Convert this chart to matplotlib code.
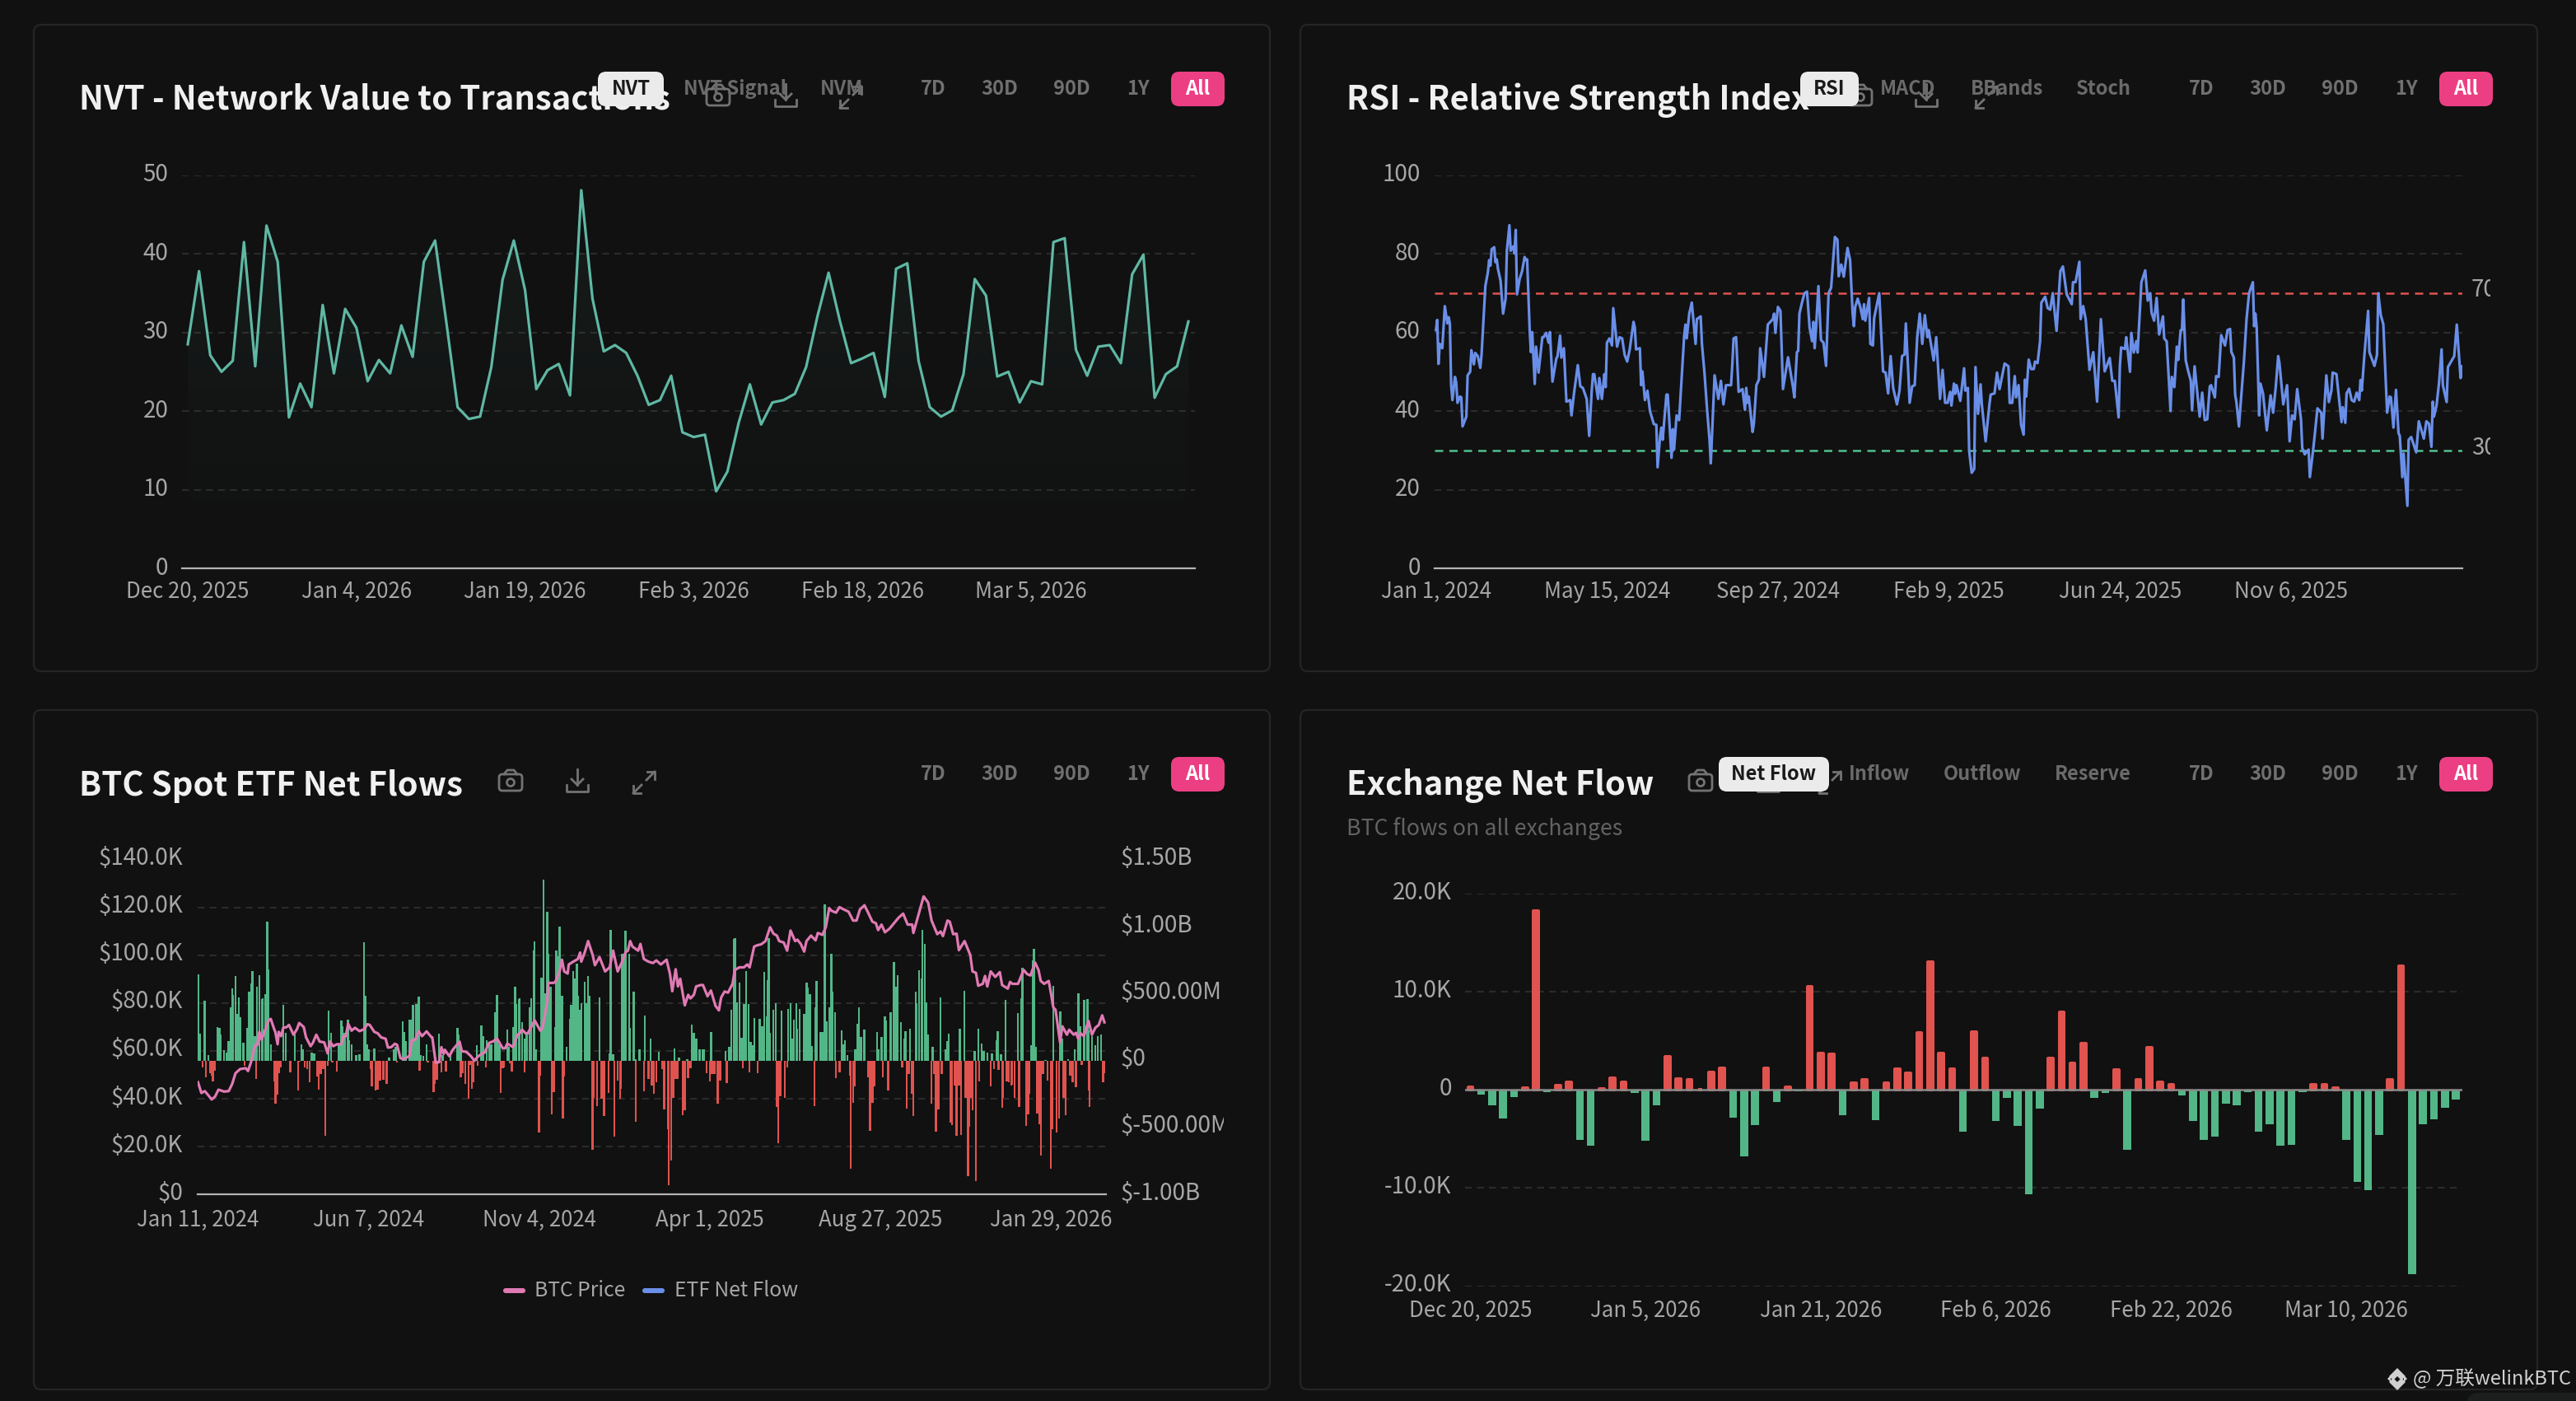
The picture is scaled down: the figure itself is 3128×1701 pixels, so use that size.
import numpy as np
import matplotlib
matplotlib.use('Agg')
import matplotlib.pyplot as plt
from matplotlib.patches import FancyBboxPatch, Circle, Polygon
from matplotlib.transforms import Bbox, ScaledTranslation

plt.rcParams['font.family'] = ['Noto Sans CJK SC', 'DejaVu Sans']

W, H = 3128, 1701
BG = '#111111'

# NVT, one value per day from Dec 20, 2025
nvt_values = [28.5, 37.8, 27.1, 25, 26.4, 41.5, 25.7, 43.6, 39, 19.2, 23.5, 20.5, 33.5, 24.8, 33, 30.6, 23.8, 26.5,
              24.8, 30.9, 26.9, 39, 41.7, 31.3, 20.5, 19, 19.3, 25.6, 36.7, 41.7, 35.4, 22.8, 25.2, 26, 22, 48.1,
              34.3, 27.6, 28.4, 27.4, 24.5, 20.8, 21.4, 24.5, 17.3, 16.7, 17, 9.8, 12.3, 18.5, 23.4, 18.3, 21.1,
              21.4, 22.2, 25.6, 32, 37.6, 31.5, 26.1, 26.7, 27.4, 21.8, 38.1, 38.8, 26.4, 20.5, 19.3, 20.1, 24.7,
              36.8, 34.7, 24.4, 25, 21.1, 23.8, 23.4, 41.5, 42, 27.8, 24.5, 28.2, 28.4, 26.1, 37.4, 39.9, 21.7,
              24.7, 25.7, 31.4]
nvt_ticks = [0, 15, 30, 45, 60, 75]
nvt_labels = ['Dec 20, 2025', 'Jan 4, 2026', 'Jan 19, 2026', 'Feb 3, 2026', 'Feb 18, 2026', 'Mar 5, 2026']

# RSI turning points, day number from Jan 1, 2024
rsi_days = [0, 1, 2, 3, 5, 7, 9, 10, 11, 12, 13, 15, 16, 17, 19, 20, 21, 24, 25, 27, 28, 30, 31, 33, 35, 36, 39, 41,
            42, 43, 44, 46, 47, 48, 49, 51, 53, 55, 56, 58, 59, 61, 62, 63, 64, 66, 68, 70, 71, 72, 74, 75, 76, 78,
            79, 81, 84, 85, 87, 89, 90, 92, 93, 95, 96, 98, 99, 101, 103, 106, 107, 109, 112, 114, 116, 119, 121,
            123, 124, 125, 128, 129, 131, 133, 134, 135, 137, 139, 140, 143, 145, 147, 149, 151, 153, 156, 157,
            158, 161, 162, 163, 165, 167, 169, 172, 174, 175, 177, 178, 179, 182, 183, 186, 187, 188, 190, 192,
            196, 197, 198, 200, 202, 205, 206, 209, 210, 212, 214, 216, 217, 220, 223, 225, 227, 229, 233, 234,
            235, 237, 239, 242, 244, 245, 246, 247, 250, 251, 253, 255, 256, 259, 262, 266, 267, 268, 270, 272,
            274, 278, 282, 283, 285, 286, 287, 289, 291, 293, 295, 297, 298, 299, 300, 302, 304, 306, 308, 310,
            312, 315, 317, 318, 320, 322, 325, 327, 329, 330, 331, 333, 335, 337, 338, 339, 342, 343, 345, 346,
            350, 353, 355, 357, 359, 361, 364, 366, 368, 370, 371, 373, 374, 376, 378, 380, 382, 384, 386, 388,
            389, 393, 395, 398, 400,
            402, 404, 406, 407, 409, 410, 411, 414, 417, 418, 420, 421, 423, 425, 426, 428, 430, 431, 434, 437,
            438, 441, 443, 445, 449, 452, 453, 455, 457, 458, 460, 462, 464, 465, 466, 468, 470, 472, 473, 475,
            477, 478, 481, 483, 485, 487, 490, 493, 495, 498, 502, 503, 505, 508, 509, 511, 513, 516, 519, 522,
            525, 528, 532, 534, 536, 539, 540, 541, 544, 545, 548, 549, 551, 553, 554, 557, 560, 562, 564, 565,
            567, 569, 571, 574, 575, 577, 580, 581, 583, 585, 586, 588, 589, 590, 592, 594, 596, 597, 599, 603,
            605, 607, 609, 611, 612, 615, 616, 618, 620, 623, 625, 627, 628, 630, 631, 632, 634, 638, 640, 642,
            645, 646, 647, 648, 650, 651, 653, 656, 659, 661, 663, 665, 666, 669, 672, 674, 676, 678, 680, 683,
            684, 686, 689, 690, 693, 696, 699, 700, 703, 705, 707, 708, 711, 715, 716, 718, 719, 721, 723, 725,
            727, 729, 730, 731, 733, 736, 737, 741, 743, 744, 746, 748, 751, 753, 754, 756, 758, 760, 761, 763,
            764, 767, 768, 770, 774, 776, 780, 782, 784, 786, 787, 788, 790, 792, 794, 795, 798, 799, 804, 806,
            809, 810]
rsi_values = [60.6, 63.2, 52, 57.1, 56, 66.7, 62.3, 63.9, 62.3, 46.6, 42.8, 48.7, 47.3, 42.1, 43.7, 43.5, 36.1, 38.6,
              49.1, 50, 55.5, 51.9, 54.8, 54, 51, 54.3, 71.8, 75.3, 78.4, 77, 81.2, 81.7, 77.9, 78.6, 76.1, 73.2,
              64.8, 68.6, 80.8, 87.3, 80.8, 81.9, 80.1, 86.1, 69.7, 73.5, 75.6, 79.2, 78.4, 78.6, 60.6, 55, 60.1,
              46.9, 56.4, 49.8, 58.8, 58.8, 59.9, 57.4, 60.1, 47.5, 49.4, 53.3, 54, 59.2, 53.6, 56, 42.4, 42.8,
              38.9, 44.5, 51.7, 46.3, 45.9, 43.1, 33.7, 45.2, 49.4, 49.4, 43.1, 48.4, 43.1, 49.4, 46.1, 57.4, 58.5,
              56.7, 66.2, 56.4, 58.8, 58.5, 54.3, 52.6, 55.7, 62.7, 61.3, 55.7, 56, 46.6, 50.1, 42.8, 45.2, 40,
              36.7, 36.5, 25.7, 33.7, 35.8, 32.7, 44.2, 44.2, 28.1, 35.4, 30.2, 38.9, 37.7, 59.2, 62, 58.5, 64.8,
              67.6, 57.1, 63.4, 64.1, 57.1, 49.8, 40.7, 32.7, 26.7, 49.1, 43.1, 47.7, 41.7, 46.6, 46.6, 51.9, 58.5,
              58.8, 44.9, 45.6, 40.3, 45.9, 42.1, 43.7, 34.7, 36.8, 46.6, 48, 56, 48.7, 62, 63.4, 64.8, 59.9, 66.5,
              65.5, 45.6, 53.7, 45.9, 43.5, 55, 55.3, 64.8, 67.6, 70, 70.4, 61.3, 57.8, 62.7, 56, 60.6, 71.8, 58.1,
              57.4, 51.5, 70, 71.4, 84.3, 83.6, 74.3, 77.3, 74.2, 81.5, 78.4, 64.8, 61.6, 66.5, 68.6, 66.5, 63.4,
              67.2, 63, 68.8, 57.1, 56.7, 63.7, 70, 50.1, 49.8, 44.5, 54, 45.9, 41.7, 45.2, 54, 54.4, 62.3, 49.4,
              42.1, 46.3, 46.6, 58.8, 64.8, 57.1, 64.4, 58.8, 60.6, 52.9, 58.8, 43.1, 50.5,
              42.1, 42.1, 44.9, 41.4, 47, 44.4, 46.6, 42.6, 50.9, 45.2, 45.9, 29.9, 24.3, 25.3, 51.2, 39.3, 46.8,
              41.7, 32.3, 41.7, 44.2, 44.5, 49.8, 45.6, 52.1, 51.4, 42.1, 42.1, 48.9, 43.5, 46.6, 36.5, 34, 48,
              43.7, 53.1, 50.7, 50.7, 52.6, 52.2, 57.8, 67.6, 69.1, 66.2, 65.8, 70, 60.4, 75.6, 76.8, 69.7, 67.2,
              72.8, 72.8, 78, 63.4, 66.7, 63.4, 50.5, 55, 42.4, 63.4, 50.1, 53.5, 47.7, 47.7, 38.4, 51.5, 56.2,
              55.8, 58.8, 50, 59.9, 54.9, 57.8, 54.9, 72.8, 75.8, 68.1, 70, 65.1, 63, 68.8, 59.5, 64.1, 58.5, 57.7,
              40, 48.7, 46.1, 56.4, 53, 60.6, 60.6, 68.4, 52.9, 50.1, 47.7, 40.2, 51.4, 38.6, 44.7, 37.7, 37.9,
              46.3, 46.6, 43.5, 48.9, 48.7, 59.3, 56.7, 60.6, 60.9, 55.1, 53.6, 44.2, 42.3, 36.1, 52.9, 63.4, 70,
              72.8, 61.6, 64.8, 61.3, 38.9, 47, 44.5, 35.1, 44, 39.6, 45.9, 54, 52.2, 41.7, 46.6, 32.3, 38.9, 37.9,
              45.6, 37.9, 30.6, 29, 30.2, 23.2, 31.3, 40.7, 39.6, 33, 49.1, 42.3, 45.2, 49.8, 49.4, 37.2, 41, 37,
              44.5, 45.7, 42.8, 42.4, 44.7, 42.8, 47.9, 45.2, 54, 65.5, 55, 51.5, 54.3, 70, 64.4, 62.1, 39.6, 43.7,
              43.5, 35.8, 45.4, 34.4, 33.7, 23.2, 29.2, 15.9, 32.7, 33.4, 29.5, 37.4, 33, 37.4, 36.8, 30.9, 42.4,
              38.6, 41.4, 47.2, 55.7, 46.6, 42.3, 51.2, 54, 62, 48.4, 51.4]
rsi_ticks = [0, 135, 270, 405, 540, 675]
rsi_labels = ['Jan 1, 2024', 'May 15, 2024', 'Sep 27, 2024', 'Feb 9, 2025', 'Jun 24, 2025', 'Nov 6, 2025']

# ETF flows in $M, row number from Jan 11, 2024
etf_in_days = [0, 2, 6, 9, 17, 19, 20, 23, 25, 27, 29, 30, 31, 33, 34, 36, 37, 40, 43, 45, 47, 48, 50, 52, 54, 56, 57,
               59, 61, 62, 64, 75, 77, 85, 91, 92, 100, 102, 115, 117, 124, 126, 127, 129, 132, 133, 135, 139, 142,
               146, 147, 149, 150, 155, 168, 172, 174, 180, 181, 183, 186, 187, 189, 190, 192, 194, 196, 198, 201,
               212, 215, 222, 228, 229, 231, 245, 249, 251, 254, 256, 258, 261, 263, 265, 272, 273, 277, 279, 280,
               282, 283, 285, 287, 289, 292, 293, 295, 296, 297, 302, 304, 305, 307, 308, 310, 314, 315, 317, 318,
               320, 324, 327, 328, 330, 331, 333, 334, 336, 337, 340, 341, 343, 344, 353, 362, 363, 365, 373, 375,
               376, 379, 380, 383, 385, 388,
               393, 398, 405, 419, 423, 430, 434, 436, 438, 441, 444, 445, 451, 464, 467, 469, 471, 472, 474, 476,
               478, 480, 482, 484, 486, 488, 489, 494, 496, 498, 500, 501, 502, 503, 506, 508, 513, 519, 521, 522,
               524, 526, 527, 529, 533, 535, 536, 538, 540, 543, 544, 547, 549, 551, 553, 555, 557, 558, 560, 566,
               567, 569, 571, 578, 580, 581, 583, 586, 597, 598, 601, 604, 605, 609, 612, 614, 615, 618, 621, 622,
               626, 631, 632, 634, 636, 637, 639, 640, 642, 646, 653, 657, 659, 660, 670, 674, 683, 686, 689, 691,
               694, 698, 702, 703, 706, 710, 721, 724, 725, 733, 734, 735, 737, 745, 752, 758, 760, 765, 771, 774,
               776, 779, 782, 783, 786, 789, 791, 794]
etf_in_values = [647, 201, 448, 41, 250, 242, 195, 78, 62, 144, 400, 538, 493, 630, 349, 472, 324, 133, 246, 513, 575,
                 667, 185, 554, 641, 462, 468, 499, 1037, 682, 123, 415, 205, 205, 119, 82, 57, 51, 374, 205, 123, 298,
                 257, 205, 304, 154, 119, 41, 45, 883, 482, 123, 82, 92, 25, 82, 103, 292, 216, 144, 308, 308, 417,
                 164, 421, 478, 41, 37, 119, 199, 41, 41, 246, 195, 103, 113, 261, 185, 154, 123, 123, 359, 489, 123,
                 230, 103, 250, 550, 421, 460, 464, 287, 164, 205, 400, 466, 821, 889, 82, 622, 1351, 503, 1115, 801,
                 554, 250, 821, 780, 1000, 482, 103, 314, 417, 667, 616, 725, 482, 380, 431, 591, 431, 632, 482, 472,
                 51, 975, 45, 801, 795, 969, 797, 246, 513, 10, 82,
                 339, 164, 66, 88, 21, 10, 271, 205, 164, 82, 82, 86, 214, 72, 103, 380, 909, 912, 437, 585, 170, 421,
                 667, 421, 140, 113, 318, 314, 257, 663, 328, 602, 914, 205, 380, 431, 374, 384, 427, 164, 308, 431,
                 236, 386, 349, 585, 544, 499, 107, 400, 595, 216, 216, 1170, 294, 400, 797, 513, 359, 226, 123, 154,
                 41, 82, 277, 400, 175, 230, 216, 82, 175, 328, 298, 359, 739, 554, 636, 287, 164, 222, 236, 513, 427,
                 673, 616, 975, 873, 437, 195, 103, 472, 82, 144, 199, 236, 519, 72, 236, 127, 72, 57, 51, 154, 222,
                 45, 452, 353, 468, 694, 113, 749, 836, 103, 4, 558, 365, 164, 10, 86, 503, 257, 456, 458, 226, 185,
                 113, 181, 195]
etf_out_days = [4, 7, 11, 12, 13, 15, 41, 51, 67, 68, 70, 71, 73, 81, 88, 89, 94, 96, 98, 105, 106, 108, 110, 112, 114,
                118, 122, 152, 153, 156, 158, 160, 163, 166, 175, 195, 202, 207, 208, 210, 214, 218, 231, 233, 235,
                238, 239, 241, 242, 246, 253, 266, 268, 269, 274, 276, 287, 300, 301, 311, 313, 321, 322, 347, 348,
                351, 355, 357, 361, 366, 369, 371, 372, 385,
                392, 396, 399, 401, 403, 408, 410, 413, 414, 416, 418, 420, 422, 426, 427, 428, 431, 433, 447, 450,
                452, 454, 457, 459, 465, 479, 485, 492, 509, 510, 512, 516, 518, 542, 561, 564, 573, 574, 576, 577,
                589, 591, 593, 595, 602, 607, 619, 623, 625, 628, 629, 645, 647, 649, 651, 654, 662, 663, 665, 667,
                669, 671, 675, 677, 678, 680, 681, 684, 687, 697, 700, 704, 707, 708, 711, 713, 715, 716, 718, 722,
                728, 730, 731, 738, 740, 741, 743, 747, 750, 751, 755, 757, 761, 763, 767, 769, 772, 777, 783, 784,
                796, 797]
etf_out_values = [-51, -123, -92, -113, -154, -78, -37, -140, -154, -324, -257, -92, -51, -86, -222, -10, -51, -62,
                  -164, -119, -216, -103, -62, -565, -37, -16, -82, -66, -195, -226, -216, -148, -144, -175, -16, -78,
                  -16, -236, -175, -144, -88, -82, -123, -92, -175, -287, -31, -209, -164, -41, -51, -240, -57, -51,
                  -21, -82, -86, -540, -113, -400, -236, -435, -119, -669, -277, -339, -287, -415, -240, -569, -148,
                  -283, -209, -456,
                  -232, -140, -185, -250, -160, -62, -363, -513, -934, -749, -277, -140, -140, -411, -277, -370, -133,
                  -57, -92, -154, -99, -103, -324, -148, -170, -55, -86, -92, -345, -616, -267, -277, -51, -343, -129,
                  -86, -113, -811, -318, -195, -123, -524, -314, -195, -127, -222, -51, -359, -103, -250, -417, -324,
                  -103, -530, -363, -103, -466, -482, -185, -565, -189, -558, -277, -862, -493, -277, -370, -899, -154,
                  -195, -62, -72, -355, -277, -154, -160, -189, -180, -277, -345, -487, -400, -246, -394, -478, -708,
                  -103, -148, -811, -513, -540, -431, -277, -411, -113, -164, -201, -31, -226, -349, -164, -92]
btc_days = [0, 3, 6, 9, 12, 15, 18, 23, 27, 30, 33, 37, 42, 44, 47, 50, 52, 54, 56, 58, 62, 64, 67, 68, 70, 71, 73, 75,
            78, 80, 84, 87, 89, 93, 95, 99, 101, 104, 107, 111, 114, 116, 119, 122, 126, 128, 130, 132, 135, 138, 142,
            146, 149, 151, 155, 158, 161, 165, 167, 170, 173, 175, 178, 181, 186, 188, 191, 194, 197, 201, 205, 206,
            209, 212, 214, 216, 217, 221, 224, 230, 232, 236, 240, 243, 246, 250, 252, 256, 259, 263, 268, 270, 272,
            277, 281, 283, 285, 288, 290, 296, 301, 303, 307, 308, 312, 314, 318, 320, 322, 325, 326, 330, 334, 336,
            337, 340, 343, 347, 349, 353, 358, 362, 365, 369, 373, 376, 378, 380, 382, 387, 389,
            392, 396, 400, 403, 407, 412, 415, 417, 420, 422, 424, 428, 431, 433, 436, 438, 442, 444, 448, 451, 455,
            458, 460, 463, 466, 470, 472, 476, 480, 483, 485, 489, 492, 495, 499, 503, 506, 509, 511, 515, 518, 521,
            525, 527, 530, 533, 535, 539, 543, 545, 549, 552, 555, 557, 561, 564, 568, 572, 576, 579, 582, 586, 589,
            593, 596, 598, 601, 604, 608, 612, 616, 620, 624, 628, 629, 638, 642, 645, 650, 653, 655, 659, 661, 664,
            667, 669, 674, 679, 681, 684, 686, 690, 692, 694, 697, 701, 705, 707, 712, 714, 716, 721, 726, 729, 732,
            736, 739, 741, 744, 748, 750, 752, 754, 758, 760, 764, 766, 770, 772, 774, 776, 779, 783, 786, 789, 792,
            795, 797]
btc_values = [46.9, 42.4, 43.2, 41.5, 39.7, 40.9, 43.8, 43, 43.2, 46.1, 50.7, 52.4, 52.8, 51.6, 55.9, 62.2, 62.4, 68,
              64.7, 67.4, 72.8, 73.4, 69.1, 68, 62.8, 68, 66.2, 69.7, 70, 70.9, 66.8, 69.1, 71.7, 70, 65.7, 62, 63.4,
              66.8, 63.9, 63.6, 59, 63.9, 62, 62.8, 62.8, 66.2, 66.2, 71.4, 68.5, 69.7, 68.3, 69.1, 71.2, 70.9, 68,
              67.4, 65.7, 65.1, 61.4, 61.6, 63, 62.6, 57, 56.5, 58, 64.5, 64.7, 68.3, 66.2, 68.2, 65.9, 65.7, 55.1,
              55.3, 61.6, 58.8, 60.5, 57.8, 60.5, 63.9, 59.9, 59.6, 57.8, 55.9, 57.6, 59, 59.3, 63.4, 63.9, 65.1,
              61.1, 61.1, 63.1, 61.6, 66.8, 67.4, 68.9, 67.4, 67.4, 72.8, 68.5, 69.7, 80.6, 88.5, 88.5, 88.7, 93.3,
              98.2, 93.3, 92.4, 96.2, 97.4, 98.5, 101.2, 97.4, 101.2, 106, 100.2, 95.9, 99.3, 93.3, 95, 102, 93.3,
              97.4, 101.4, 102, 106, 103.7, 102, 104.8,
              98.5, 97.4, 96.8, 97.9, 96.2, 98.2, 92.2, 85, 94.2, 87, 90.2, 79.1, 83.5, 82, 83.5, 87, 87.6, 87.6,
              82.9, 85.3, 78.9, 77, 82.4, 84.9, 84.4, 88.1, 93.9, 95, 95, 96.2, 95, 103.7, 104.3, 104.6, 106, 111.8,
              109.1, 108.3, 106, 105.4, 102, 110.4, 106, 106.6, 104.8, 101.6, 106, 108.3, 106.3, 109.4, 108.6, 111.8,
              119.8, 118.7, 117.9, 120.2, 119.2, 118.3, 114.6, 114.6, 119.2, 121, 118.1, 114.1, 113.5, 110.6, 112.9,
              109.7, 111.2, 113.5, 115.8, 117.5, 112.9, 112.9, 109.4, 124.7, 122.1, 114.6, 108.9, 110, 108.1, 114.6,
              114.1, 108.9, 109.1, 102.2, 106, 100.2, 93.3, 92.7, 87.3, 88.1, 91.4, 87, 93.3, 91, 93, 87.6, 86.1,
              88.9, 88.1, 88.1, 93.9, 92.2, 91.6, 97, 93.9, 89.3, 88.1, 89.3, 84.1, 78.3, 77.2, 63.6, 70.3, 66.8,
              68.9, 66.8, 67.6, 65.1, 67.4, 66.2, 72.6, 66.8, 69.7, 70.9, 74.9, 72]
etf_ticks = [0, 150, 300, 450, 600, 750]
etf_labels = ['Jan 11, 2024', 'Jun 7, 2024', 'Nov 4, 2024', 'Apr 1, 2025', 'Aug 27, 2025', 'Jan 29, 2026']
price_ticks = [0, 20, 40, 60, 80, 100, 120, 140]
price_labels = ['$0', '$20.0K', '$40.0K', '$60.0K', '$80.0K', '$100.0K', '$120.0K', '$140.0K']
flow_ticks = [-1000, -500, 0, 500, 1000, 1500]
flow_labels = ['$-1.00B', '$-500.00M', '$0', '$500.00M', '$1.00B', '$1.50B']

# exchange net flow in thousands of BTC, one bar per day from Dec 20, 2025
netflow_values = [0.3, -0.45, -1.6, -2.9, -0.7, 0.15, 18.2, -0.2, 0.4, 0.8, -5.1, -5.7, 0.1, 1.2, 0.8, -0.3, -5.2, -1.6,
                  3.4, 1.1, 1.0, 0.05, 1.8, 2.2, -2.8, -6.8, -3.6, 2.2, -1.2, 0.3, -0.15, 10.5, 3.7, 3.6, -2.6, 0.7,
                  1.0, -3.1, 0.7, 2.1, 1.7, 5.8, 13, 3.7, 2.1, -4.3, 5.9, 3.2, -3.2, -0.8, -3.7, -10.6, -1.9, 3.2, 7.9,
                  2.7, 4.7, -0.8, -0.3, 2, -6.1, 1, 4.3, 0.8, 0.5, -0.6, -3.2, -5.1, -4.8, -1.4, -1.6, -0.2, -4.3, -3.5,
                  -5.7, -5.6, -0.2, 0.55, 0.55, 0.2, -5.1, -9.4, -10.2, -4.6, 1, 12.6, -18.8, -3.5, -3, -1.8, -1]
netflow_ticks = [0, 16, 32, 48, 64, 80]
netflow_labels = ['Dec 20, 2025', 'Jan 5, 2026', 'Jan 21, 2026', 'Feb 6, 2026', 'Feb 22, 2026', 'Mar 10, 2026']
range_buttons = ['7D', '30D', '90D', '1Y']

RED = '#e0534f'
GREEN = '#53b687'
GRID = '#2b2b2b'
TICK = '#a6a6a6'
AXIS = '#b4b4b4'
FS_TICK = 18.6
FS_YTICK = 20


def make_axes(x0, y0, x1, y1):
    ax = fig.add_axes([x0 / W, 1 - y1 / H, (x1 - x0) / W, (y1 - y0) / H])
    ax.patch.set_visible(False)
    for side in ['top', 'left', 'right']:
        ax.spines[side].set_visible(False)
    ax.spines['bottom'].set_color(AXIS)
    ax.spines['bottom'].set_linewidth(1.6)
    ax.tick_params(axis='both', length=0, labelcolor=TICK)
    ax.tick_params(axis='x', pad=10.5, labelsize=FS_TICK)
    ax.tick_params(axis='y', pad=12, labelsize=FS_YTICK)
    ax.grid(True, axis='y', color=GRID, linestyle=(0, (4, 3)), linewidth=1.5)
    ax.set_axisbelow(True)
    return ax


def lift_labels(axis, px):
    # labels sit a bit above their grid line in the original
    for lab in axis.get_ticklabels():
        lab.set_transform(lab.get_transform() + ScaledTranslation(0, px / 100, fig.dpi_scale_trans))


def pill(x0, y0, x1, y1, color, r=10):
    ui.add_patch(FancyBboxPatch((x0 + r, y0 + r), x1 - x0 - 2 * r, y1 - y0 - 2 * r,
                                boxstyle='round,pad=%d,rounding_size=%d' % (r, r), fc=color, ec='none', zorder=5))


def icons(cam_x, down_x, exp_x, y):
    c = '#737373'
    ui.add_patch(FancyBboxPatch((cam_x - 14, y - 10), 28, 20, boxstyle='round,pad=0,rounding_size=4', fc='none', ec=c, lw=2, zorder=2))
    ui.add_patch(Circle((cam_x, y), 4.5, fc='none', ec=c, lw=2, zorder=2))
    ui.plot([cam_x - 8, cam_x - 4, cam_x + 4, cam_x + 8], [y - 10, y - 15, y - 15, y - 10], color=c, lw=2, zorder=2)
    ui.plot([down_x - 13, down_x - 13, down_x + 13, down_x + 13], [y + 3, y + 11, y + 11, y + 3], color=c, lw=2, zorder=2)
    ui.plot([down_x, down_x], [y - 16, y + 3], color=c, lw=2, zorder=2)
    ui.plot([down_x - 7, down_x, down_x + 7], [y - 4, y + 3, y - 4], color=c, lw=2, zorder=2)
    # two arrows with a gap between them
    ui.plot([exp_x - 13, exp_x - 3], [y + 13, y + 3], color=c, lw=2, zorder=2)
    ui.plot([exp_x + 3, exp_x + 13], [y - 3, y - 13], color=c, lw=2, zorder=2)
    ui.plot([exp_x - 13, exp_x - 13, exp_x - 4], [y + 4, y + 13, y + 13], color=c, lw=2, zorder=2)
    ui.plot([exp_x + 4, exp_x + 13, exp_x + 13], [y - 13, y - 13, y - 4], color=c, lw=2, zorder=2)


def header(title, tx, ty, btn_y, offset, tabs, active):
    ui.text(tx, ty, title, color='#f0f0f0', fontsize=28.8, fontweight='bold', va='center', ha='left', zorder=1)
    for name, cx in tabs:
        ui.text(cx, btn_y, name, color='#6a6a6a', fontsize=17, fontweight='bold', ha='center', va='center', zorder=3)
    if active:
        name, x0, x1 = active
        pill(x0, btn_y - 21, x1, btn_y + 21, '#ebebeb')
        ui.text((x0 + x1) / 2, btn_y, name, color='#1a1a1a', fontsize=17, fontweight='bold', ha='center', va='center', zorder=6)
    for lab, cx in zip(range_buttons, [1133, 1214, 1301, 1382]):
        ui.text(cx + offset, btn_y, lab, color='#707070', fontsize=17, fontweight='bold', ha='center', va='center', zorder=3)
    pill(1422 + offset, btn_y - 21, 1487 + offset, btn_y + 21, '#ec3f83')
    ui.text(1454.5 + offset, btn_y, 'All', color='white', fontsize=17, fontweight='bold', ha='center', va='center', zorder=6)


fig = plt.figure(figsize=(W / 100, H / 100), dpi=100, facecolor=BG)

back = fig.add_axes([0, 0, 1, 1], zorder=0)
back.set_xlim(0, W)
back.set_ylim(H, 0)
back.axis('off')
for px0, py0, px1, py1 in [(41, 30, 1542, 815), (1579, 30, 3081, 815), (41, 862, 1542, 1687), (1579, 862, 3081, 1687)]:
    back.add_patch(FancyBboxPatch((px0, py0), px1 - px0, py1 - py0, boxstyle='round,pad=0,rounding_size=9',
                                  fc=BG, ec='#252525', lw=1.6))
back.add_patch(FancyBboxPatch((2995, 1691), 200, 60, boxstyle='round,pad=0,rounding_size=16', fc='#1c1e1e', ec='none'))

ui = fig.add_axes([0, 0, 1, 1], zorder=10)
ui.set_xlim(0, W)
ui.set_ylim(H, 0)
ui.axis('off')

# NVT
ax1 = make_axes(221, 212.8, 1451, 690)
nvt_x = np.arange(len(nvt_values))
fill = ax1.fill_between(nvt_x, nvt_values, 0, color='none')
grad = np.zeros((100, 2, 4))
grad[..., :3] = matplotlib.colors.to_rgb('#5fb8a4')
grad[..., 3] = np.linspace(0.06, 0, 100)[:, None]
img = ax1.imshow(grad, extent=[0, 89, 4, 40], origin='upper', aspect='auto', zorder=1)
img.set_clip_path(fill.get_paths()[0], transform=ax1.transData)
ax1.plot(nvt_x, nvt_values, color='#5fb8a4', lw=2.3, zorder=3)
ax1.set_xlim(-7 / 13.65, 89 + 8 / 13.65)
ax1.set_ylim(0, 50)
ax1.set_xticks(nvt_ticks, nvt_labels)
ax1.set_yticks([0, 10, 20, 30, 40, 50])
lift_labels(ax1.yaxis, 4)

# RSI
ax2 = make_axes(1741.5, 212.8, 2990, 690)
ax2.plot(rsi_days, rsi_values, color='#6a8fe8', lw=2.3, zorder=3)
ax2.axhline(70, color='#e0534f', lw=1.8, linestyle=(0, (4, 3)), zorder=2)
ax2.axhline(30, color='#4fc08d', lw=1.8, linestyle=(0, (4, 3)), zorder=2)
ax2.set_xlim(-1.4, 810.4)
ax2.set_ylim(0, 100)
ax2.set_xticks(rsi_ticks, rsi_labels)
ax2.set_yticks([0, 20, 40, 60, 80, 100])
lift_labels(ax2.yaxis, 4)

# ETF, price line goes on top of the bars
ax3 = make_axes(240, 1044, 1342.5, 1450)
ax3.bar(etf_in_days, etf_in_values, width=1.8, color=GREEN, lw=0)
ax3.bar(etf_out_days, etf_out_values, width=1.8, color=RED, lw=0)
ax3b = ax3.twinx()
ax3b.patch.set_visible(False)
ax3b.plot(btc_days, btc_values, color='#e07ab4', lw=2.3)
ax3b.set_ylim(0, 140)
ax3b.set_xlim(-0.3, 798)
ax3b.yaxis.tick_left()
ax3b.set_yticks(price_ticks, price_labels)
ax3b.tick_params(axis='y', length=0, labelsize=FS_YTICK, labelcolor=TICK, pad=13)
for side in ['top', 'left', 'right', 'bottom']:
    ax3b.spines[side].set_visible(False)
lift_labels(ax3b.yaxis, 5)

ax3.set_xlim(-0.3, 798)
ax3.set_ylim(-1000, 1500)
ax3.set_xticks(etf_ticks, etf_labels)
ax3.tick_params(axis='x', pad=13)
ax3.yaxis.tick_right()
ax3.set_yticks(flow_ticks, flow_labels)
ax3.set_yticks([p / 140 * 2500 - 1000 for p in price_ticks], minor=True)
ax3.tick_params(axis='y', which='both', length=0, labelsize=FS_YTICK, labelcolor=TICK, pad=13)
ax3.grid(False, axis='y', which='major')
ax3.grid(True, axis='y', which='minor', color=GRID, linestyle=(0, (4, 3)), linewidth=1.5)
lift_labels(ax3.yaxis, 5)
for lab in ax3.yaxis.get_ticklabels():
    lab.set_clip_on(True)
    lab.set_clip_box(Bbox([[1300, 0], [1486, H]]))

# exchange net flow, red bars have rounded tops in the original
ax4 = make_axes(1779.4, 1085, 2990, 1561.5)
flow_x = np.arange(len(netflow_values))
flow_y = np.array(netflow_values)
up = flow_y > 0
ax4.bar(flow_x[up], flow_y[up], width=0.42, color=RED, edgecolor=RED, linewidth=2.9, joinstyle='round', zorder=2)
ax4.bar(flow_x[~up], flow_y[~up], width=0.72, color=GREEN, lw=0, zorder=2)
ax4.axhline(0, color='#8a8a8a', lw=1.8, zorder=3)
ax4.spines['bottom'].set_visible(False)
ax4.set_xlim(-0.45, 90.6)
ax4.set_ylim(-20, 20)
ax4.set_xticks(netflow_ticks, netflow_labels)
ax4.tick_params(axis='x', pad=12)
ax4.set_yticks([-20, -10, 0, 10, 20], ['-20.0K', '-10.0K', '0', '10.0K', '20.0K'])
lift_labels(ax4.yaxis, 5)

# RSI reference labels
for y_px, lab in [(352, '70'), (544, '30')]:
    t = ui.text(3001, y_px, lab, color=TICK, fontsize=FS_YTICK, va='center', ha='left', clip_on=True)
    t.set_clip_box(Bbox([[2995, 0], [3024, H]]))

# headers
icons(872, 954, 1033, 118)
header('NVT - Network Value to Transactions', 96, 122, 108, 0, [('NVT Signal', 893), ('NVM', 1022)], ('NVT', 726, 806))
icons(2259, 2339, 2412, 118)
header('RSI - Relative Strength Index', 1635, 122, 108, 1540, [('MACD', 2317), ('BBands', 2437), ('Stoch', 2554)], ('RSI', 2186, 2257))
icons(620, 701, 782, 950)
header('BTC Spot ETF Net Flows', 96, 954, 940, 0, [], None)
icons(2065, 2147, 2222, 950)
header('Exchange Net Flow', 1635, 954, 940, 1540, [('Inflow', 2282), ('Outflow', 2407), ('Reserve', 2541)], ('Net Flow', 2087, 2221))
ui.text(1635, 1006, 'BTC flows on all exchanges', color='#626262', fontsize=19.2, va='center', ha='left')

# legend of the ETF chart
pill(611, 1564, 638, 1570, '#e07ab4', r=3)
ui.text(649, 1567, 'BTC Price', color=TICK, fontsize=17.8, va='center', ha='left')
pill(780, 1564, 807, 1570, '#6a8fe8', r=3)
ui.text(819, 1567, 'ETF Net Flow', color=TICK, fontsize=17.8, va='center', ha='left')

# watermark
c = '#d0d0d0'
ui.add_patch(Polygon([(2911, 1661), (2921, 1671), (2916, 1676), (2911, 1671), (2906, 1676), (2901, 1671)], fc=c, ec='none'))
ui.add_patch(Polygon([(2911, 1688), (2921, 1678), (2916, 1673), (2911, 1678), (2906, 1673), (2901, 1678)], fc=c, ec='none'))
ui.add_patch(Polygon([(2899, 1674), (2903, 1670), (2903, 1678)], fc=c, ec='none'))
ui.add_patch(Polygon([(2923, 1674), (2919, 1670), (2919, 1678)], fc=c, ec='none'))
ui.text(2930, 1674, '@ 万联welinkBTC', color=c, fontsize=17, va='center', ha='left')

fig.savefig('out.png', dpi=100, facecolor=BG)
